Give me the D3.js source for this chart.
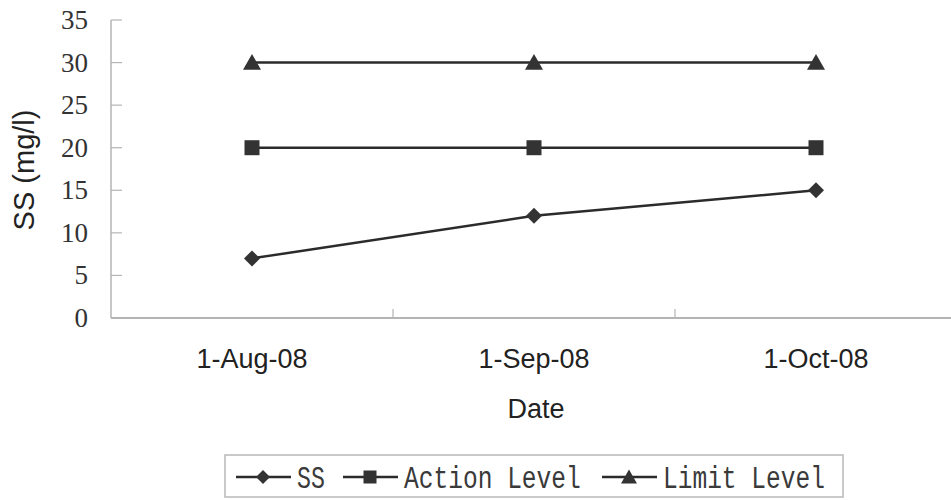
<!DOCTYPE html>
<html lang="en">
<head>
  <meta charset="UTF-8" />
  <title>SS (mg/l) by Date</title>
  <script src="https://d3js.org/d3.v7.min.js"></script>
  <style>
    body { margin: 0; padding: 0; background: #fff; }
    svg { display: block; }
    .ytick { font-family: "Liberation Serif", serif; font-size: 27px; fill: #333; }
    .xtick, .title { font-family: "Liberation Sans", Arial, sans-serif; font-size: 27px; fill: #222; }
    .legtext { font-family: "Liberation Mono", monospace; font-size: 31px; fill: #3a3a3a; }
  </style>
</head>
<body>
<svg width="951" height="500"></svg>
<script>
  // data
  const dates = ["1-Aug-08", "1-Sep-08", "1-Oct-08"];
  const ssValues = [7, 12, 15];
  const actionValues = [20, 20, 20];
  const limitValues = [30, 30, 30];
  const yTicks = [0, 5, 10, 15, 20, 25, 30, 35];

  const series = [
    { name: "SS", values: ssValues, shape: "diamond" },
    { name: "Action Level", values: actionValues, shape: "square" },
    { name: "Limit Level", values: limitValues, shape: "triangle" }
  ];

  const svg = d3.select("svg");
  const axisCol = "#b4b4b4", lineCol = "#2b2b2b";

  const x = d3.scaleBand().domain(dates).range([111, 957]);
  const y = d3.scaleLinear().domain([0, 35]).range([318, 20]);

  // marker path, size = full width
  function marker(shape, s) {
    const h = s / 2;
    if (shape === "diamond") return `M0,${-h}L${h},0L0,${h}L${-h},0Z`;
    if (shape === "square") return `M${-h},${-h}H${h}V${h}H${-h}Z`;
    return `M0,${-h * 0.95}L${h},${h * 0.8}L${-h},${h * 0.8}Z`;
  }

  // axes
  svg.append("line").attr("x1", 111).attr("x2", 111).attr("y1", y(35)).attr("y2", y(0))
    .attr("stroke", axisCol).attr("stroke-width", 1.5);
  svg.append("line").attr("x1", 111).attr("x2", 951).attr("y1", y(0)).attr("y2", y(0))
    .attr("stroke", axisCol).attr("stroke-width", 2);

  yTicks.forEach(t => {
    svg.append("line").attr("x1", 111).attr("x2", 122).attr("y1", y(t)).attr("y2", y(t))
      .attr("stroke", axisCol).attr("stroke-width", 1.2);
    svg.append("text").attr("class", "ytick").attr("x", 88).attr("y", y(t) + 9)
      .attr("text-anchor", "end").text(t);
  });

  dates.slice(1).forEach(d => {
    svg.append("line").attr("x1", x(d)).attr("x2", x(d)).attr("y1", y(0)).attr("y2", y(0) - 9)
      .attr("stroke", axisCol).attr("stroke-width", 1.2);
  });
  dates.forEach(d => {
    svg.append("text").attr("class", "xtick").attr("x", x(d) + x.bandwidth() / 2).attr("y", 368)
      .attr("text-anchor", "middle").text(d);
  });

  svg.append("text").attr("class", "title").attr("x", 536).attr("y", 418)
    .attr("text-anchor", "middle").text("Date");
  svg.append("text").attr("class", "title")
    .attr("transform", "translate(34,170) rotate(-90)")
    .attr("text-anchor", "middle").style("font-size", "29px").text("SS (mg/l)");

  // series
  const line = d3.line().x((v, i) => x(dates[i]) + x.bandwidth() / 2).y(v => y(v));
  const sizes = { diamond: 16, square: 15, triangle: 18 };
  series.forEach(s => {
    svg.append("path").attr("d", line(s.values)).attr("fill", "none")
      .attr("stroke", lineCol).attr("stroke-width", 2.5);
    s.values.forEach((v, i) => {
      svg.append("path").attr("d", marker(s.shape, sizes[s.shape]))
        .attr("transform", `translate(${x(dates[i]) + x.bandwidth() / 2},${y(v)})`)
        .attr("fill", "#333");
    });
  });

  // legend
  const leg = svg.append("g");
  leg.append("rect").attr("x", 225).attr("y", 455).attr("width", 618).attr("height", 42)
    .attr("fill", "#fff").attr("stroke", "#b8b8b8").attr("stroke-width", 1.5);
  const legX = [236, 343, 602];
  const legSizes = { diamond: 14, square: 13, triangle: 16 };
  series.forEach((s, i) => {
    const x0 = legX[i];
    leg.append("line").attr("x1", x0).attr("x2", x0 + 55).attr("y1", 477).attr("y2", 477)
      .attr("stroke", lineCol).attr("stroke-width", 2.5);
    leg.append("path").attr("d", marker(s.shape, legSizes[s.shape]))
      .attr("transform", `translate(${x0 + 27},477)`).attr("fill", "#333");
    leg.append("text").attr("class", "legtext").attr("x", x0 + 61).attr("y", 488)
      .attr("textLength", s.name.length * 14.9 - 2).attr("lengthAdjust", "spacingAndGlyphs")
      .text(s.name);
  });
</script>
</body>
</html>
